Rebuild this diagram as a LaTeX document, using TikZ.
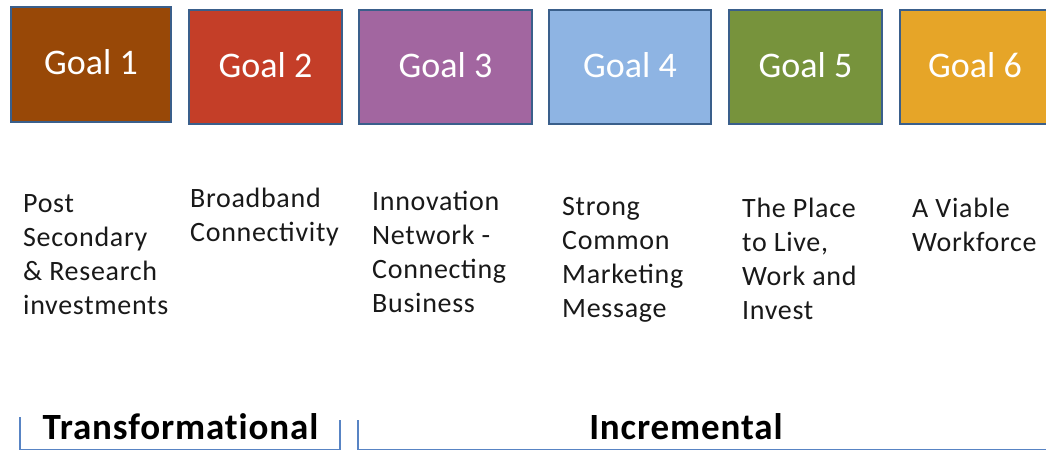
\documentclass[tikz,border=0pt]{standalone}
\usepackage{fontspec}
\setmainfont{Carlito}
\newfontfamily\descfont[LetterSpace=2.5]{Carlito}
\newfontfamily\groupfont[LetterSpace=2.4,Ligatures=NoCommon]{Carlito}
\definecolor{gborder}{RGB}{58,95,139}
\definecolor{gone}{RGB}{152,72,7}
\definecolor{gtwo}{RGB}{196,62,40}
\definecolor{gthree}{RGB}{162,102,160}
\definecolor{gfour}{RGB}{142,180,227}
\definecolor{gfive}{RGB}{119,147,60}
\definecolor{gsix}{RGB}{230,165,40}
\definecolor{bracketblue}{RGB}{88,132,196}
\definecolor{desctext}{RGB}{25,25,25}
\newcommand{\dstrut}{\rule{0pt}{20pt}}
\tikzset{
  goalbox/.style={draw=gborder, line width=1.5pt, inner sep=0pt,
    text=white, font=\fontsize{36}{40}\selectfont,
    text height=26pt, text depth=6pt},
  desc/.style={anchor=north west, inner sep=0pt, align=left, text=desctext,
    font=\descfont\fontsize{28}{34}\selectfont},
  grouplabel/.style={anchor=base, inner sep=0pt, text=black,
    font=\groupfont\fontsize{37}{40}\selectfont\bfseries},
  bracket/.style={draw=bracketblue, line width=1.6pt}
}
\begin{document}
\begin{tikzpicture}[x=1pt,y=-1pt]
\useasboundingbox (0,0) rectangle (1046,451);
\clip (0,0) rectangle (1046,451);
\fill[white] (0,0) rectangle (1046,451);
% goal boxes
\node[goalbox, fill=gone,   minimum width=160pt, minimum height=115pt] (g1) at (91,64.5) {Goal 1};
\node[goalbox, fill=gtwo,   minimum width=153pt, minimum height=114pt] (g2) at (265.5,67) {Goal 2};
\node[goalbox, fill=gthree, minimum width=173pt, minimum height=114pt] (g3) at (445.5,67) {Goal 3};
\node[goalbox, fill=gfour,  minimum width=162pt, minimum height=114pt] (g4) at (630,67) {Goal 4};
\node[goalbox, fill=gfive,  minimum width=153pt, minimum height=114pt] (g5) at (805.5,67) {Goal 5};
\node[goalbox, fill=gsix,   minimum width=150pt, minimum height=114pt] (g6) at (975,67) {Goal 6};
% descriptions
\node[desc] (d1) at (23,192) {\dstrut Post\\Secondary\\\&~Research\\investments};
\node[desc] (d2) at (190,187) {\dstrut Broadband\\Connectivity};
\node[desc] (d3) at (372,190) {\dstrut Innovation\\Network -\\Connecting\\Business};
\node[desc] (d4) at (562,195) {\dstrut Strong\\Common\\Marketing\\Message};
\node[desc] (d5) at (742,197) {\dstrut The Place\\to Live,\\Work and\\Invest};
\node[desc] (d6) at (912,197) {\dstrut A Viable\\Workforce};
% brackets
\draw[bracket] (20,417) -- (20,449.5) -- (340,449.5) -- (340,420);
\draw[bracket] (358,420) -- (358,449.5) -- (1050,449.5);
% group labels
\node[grouplabel] (transf) at (180.5,439) {Transformational};
\node[grouplabel] (incr) at (686,439) {Incremental};
\end{tikzpicture}
\end{document}
